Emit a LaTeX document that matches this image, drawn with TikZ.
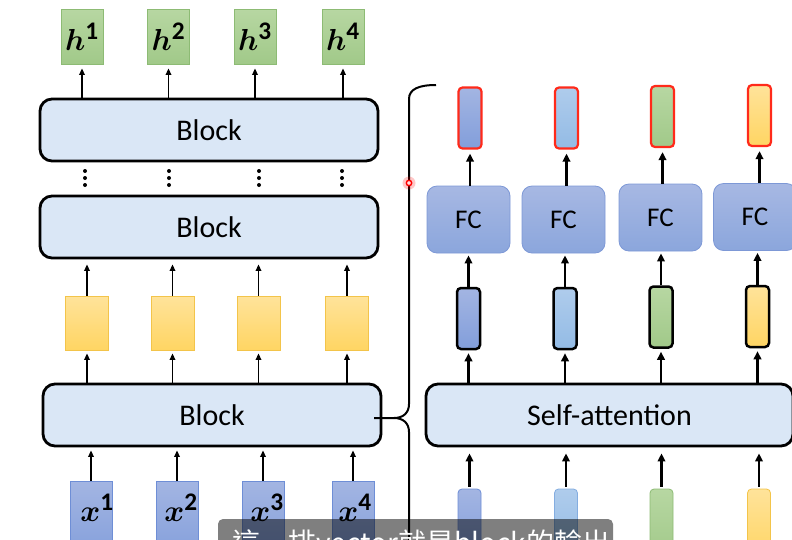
\documentclass[tikz,border=0pt]{standalone}
\usepackage{fontspec}
\usepackage{graphicx}
\setmainfont{Carlito}
\newfontfamily\cjk{Noto Sans CJK TC}
\usetikzlibrary{arrows.meta}
\DeclareMathAlphabet{\mathbit}{OML}{cmm}{b}{it}
\newcommand{\bvec}[2]{\scalebox{1.22}{$\mathbit{#1}^{\mathbf{#2}}$}}
\definecolor{blkfill}{HTML}{DAE7F6}
\definecolor{hgT}{HTML}{B7D7A2}
\definecolor{hgB}{HTML}{A1C989}
\definecolor{hgD}{HTML}{8DBB74}
\definecolor{yeT}{HTML}{FFE39A}
\definecolor{yeB}{HTML}{FFD563}
\definecolor{yeD}{HTML}{F3C44A}
\definecolor{dbT}{HTML}{A3B5E2}
\definecolor{dbB}{HTML}{829EDB}
\definecolor{dbD}{HTML}{6E8ED6}
\definecolor{lbT}{HTML}{AFCCEC}
\definecolor{lbB}{HTML}{93BBE5}
\definecolor{lbD}{HTML}{84ADE0}
\definecolor{fcT}{HTML}{A7B8E3}
\definecolor{fcB}{HTML}{8BA6DC}
\definecolor{fcD}{HTML}{7D98D6}
\definecolor{redB}{HTML}{FF2A1A}
\begin{document}
\begin{tikzpicture}[x=1pt,y=-1pt,
  blockbox/.style={draw=black, line width=2.8pt, rounded corners=12pt, fill=blkfill,
    minimum width=338pt, minimum height=62pt, inner sep=0pt, font=\fontsize{30}{36}\selectfont},
  sabox/.style={blockbox, minimum width=367pt},
  hgbox/.style={draw=hgD, line width=0.8pt, top color=hgT, bottom color=hgB,
    minimum width=42pt, minimum height=55pt, inner sep=0pt, font=\fontsize{24.88}{30}\selectfont},
  ylbox/.style={draw=yeD, line width=0.8pt, top color=yeT, bottom color=yeB,
    minimum width=43pt, minimum height=54pt, inner sep=0pt},
  xbbox/.style={draw=dbD, line width=0.8pt, top color=dbT, bottom color=dbB,
    minimum width=42pt, minimum height=80pt, inner sep=0pt},
  xlab/.style={inner sep=0pt, font=\fontsize{24.88}{30}\selectfont},
  fcbox/.style={draw=fcD, line width=0.8pt, top color=fcT, bottom color=fcB, rounded corners=10pt,
    minimum width=83pt, minimum height=67pt, inner sep=0pt, font=\fontsize{27}{32}\selectfont},
  vbarbox/.style={rounded corners=4pt, minimum width=23pt, minimum height=61pt, inner sep=0pt},
  redbar/.style={vbarbox, draw=redB, line width=2.2pt},
  blkbar/.style={vbarbox, draw=black, line width=2.5pt},
  lowbar/.style={vbarbox, line width=0.8pt, minimum height=70pt},
  cA/.style={top color=dbT, bottom color=dbB},
  cB/.style={top color=lbT, bottom color=lbB},
  cC/.style={top color=hgT, bottom color=hgB},
  cD/.style={top color=yeT, bottom color=yeB},
  larr/.style={line width=1.6pt, -{Triangle[length=6.5pt,width=5.5pt]}},
  rarr/.style={line width=2.6pt, -{Triangle[length=8pt,width=7.5pt]}},
]
\useasboundingbox (0,0) rectangle (792,539);
\clip (0,0) rectangle (792,539);
% ---------- left column ----------
\node[hgbox] (H1) at (82,36.5) {\bvec{h}{1}};
\node[hgbox] (H2) at (168.5,36.5) {\bvec{h}{2}};
\node[hgbox] (H3) at (255,36.5) {\bvec{h}{3}};
\node[hgbox] (H4) at (343,36.5) {\bvec{h}{4}};
\node[blockbox] (BkT) at (209,130) {Block};
\node[blockbox] (BkM) at (209,227) {Block};
\node[blockbox] (BkB) at (212,415) {Block};
\foreach \x in {85,169,259,342}
  \foreach \y in {171,178,185}
    \fill (\x,\y) circle (2pt);
\node[ylbox] (Y1) at (87,323) {};
\node[ylbox] (Y2) at (172.5,323) {};
\node[ylbox] (Y3) at (258.5,323) {};
\node[ylbox] (Y4) at (347,323) {};
\node[xbbox] (X1) at (91,521) {};
\node[xbbox] (X2) at (177,521) {};
\node[xbbox] (X3) at (263,521) {};
\node[xbbox] (X4) at (353,521) {};
\node[xlab] (XL1) at (97,508) {\bvec{x}{1}};
\node[xlab] (XL2) at (181,508) {\bvec{x}{2}};
\node[xlab] (XL3) at (267,508) {\bvec{x}{3}};
\node[xlab] (XL4) at (355,508) {\bvec{x}{4}};
\foreach \i in {1,...,4} {
  \draw[larr, shorten >=4pt] (BkT.north -| H\i.south) -- (H\i.south);
  \draw[larr, shorten >=5pt] (Y\i.north) -- (Y\i.north |- BkM.south);
  \draw[larr, shorten >=3pt] (BkB.north -| Y\i.south) -- (Y\i.south);
  \draw[larr, shorten >=3pt] (X\i.north) -- (X\i.north |- BkB.south);
}
% ---------- right column ----------
\node[redbar, cA] (R1) at (470,118) {};
\node[redbar, cB] (R2) at (566.5,118) {};
\node[redbar, cC] (R3) at (662.5,116.5) {};
\node[redbar, cD] (R4) at (759.5,115.5) {};
\node[fcbox] (F1) at (468.5,219.5) {FC};
\node[fcbox] (F2) at (563.5,219.5) {FC};
\node[fcbox] (F3) at (660.5,217.5) {FC};
\node[fcbox] (F4) at (755,217) {FC};
\node[blkbar, cA] (M1) at (468.5,318.5) {};
\node[blkbar, cB] (M2) at (565,318.5) {};
\node[blkbar, cC] (M3) at (661,317) {};
\node[blkbar, cD] (M4) at (757.5,316.5) {};
\node[sabox] (SA) at (609.5,415) {Self-attention};
\node[lowbar, cA, draw=dbD] (B1) at (469.5,524) {};
\node[lowbar, cB, draw=lbD] (B2) at (566,524) {};
\node[lowbar, cC, draw=hgD] (B3) at (661.5,524) {};
\node[lowbar, cD, draw=yeD] (B4) at (759,524) {};
\foreach \i in {1,...,4} {
  \draw[rarr, shorten >=4pt] (R\i.south |- F\i.north) -- (R\i.south);
  \draw[rarr, shorten >=2pt] (M\i.north) -- (M\i.north |- F\i.south);
  \draw[rarr, shorten >=3pt] (SA.north -| M\i.south) -- (M\i.south);
  \draw[rarr, shorten >=6pt, shorten <=2pt] (B\i.north) -- (B\i.north |- SA.south);
}
% ---------- brace ----------
\coordinate (btip) at (374,418);
\coordinate (bmid) at (394,418);
\coordinate (btop) at (436,85);
\coordinate (bbot) at (409,560);
\draw[line width=2pt] (btop) .. controls (419,85) and (409,89) .. (409,99)
  -- (409,404) .. controls (409,413) and (403,418) .. (bmid) -- (btip);
\draw[line width=2pt] (bmid) .. controls (403,418) and (409,423) .. (409,432) -- (bbot);
% ---------- laser pointer dot ----------
\fill[red, opacity=0.22] (409,183) circle (6.5pt);
\draw[red, line width=1.4pt, fill=red!12] (409,183) circle (2.7pt);
% ---------- subtitle ----------
\fill[black, opacity=0.5, rounded corners=5pt] (218,519) rectangle (613,575);
\node[anchor=base west, text=white, inner sep=0pt, font=\cjk\fontsize{28}{32}\selectfont] (sub) at (232,553) {這一排vector就是block的輸出};
\end{tikzpicture}
\end{document}
